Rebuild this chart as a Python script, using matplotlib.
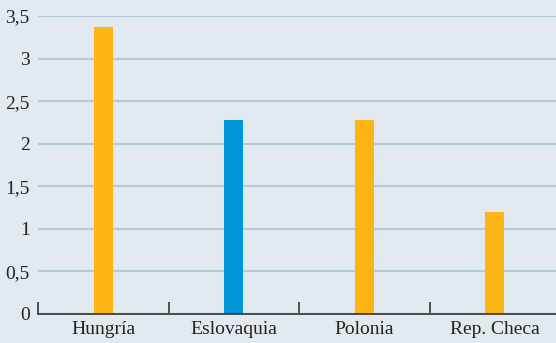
import matplotlib
matplotlib.use("Agg")
import matplotlib.pyplot as plt
from matplotlib.ticker import FixedLocator

categories = ["Hungría", "Eslovaquia", "Polonia", "Rep. Checa"]
values = [3.37, 2.28, 2.28, 1.20]
colors = ["#fdb515", "#0095d9", "#fdb515", "#fdb515"]
yticks = [0, 0.5, 1, 1.5, 2, 2.5, 3, 3.5]
ylabels = ["0", "0,5", "1", "1,5", "2", "2,5", "3", "3,5"]

bg = "#e2eaf0"
plt.rcParams['font.family'] = ['Liberation Serif', 'DejaVu Serif']

fig = plt.figure(figsize=(5.56, 3.43), dpi=100, facecolor=bg)
ax = fig.add_axes([38/556, 1-314/343, (560-38)/556, (314-16)/343])
ax.set_facecolor(bg)

x = range(len(categories))
ax.bar(x, values, width=0.146, color=colors, zorder=3)

ax.set_xlim(-0.5, 3.5)
ax.set_ylim(0, 3.5)
ax.set_yticks(yticks)
ax.set_yticklabels(ylabels, fontsize=14, color="#222222")
ax.yaxis.grid(True, color="#b3cbd8", linewidth=1.6, zorder=0)
ax.tick_params(axis='y', length=0, pad=6)

ax.set_xticks(list(x))
ax.set_xticklabels(categories, fontsize=14, color="#222222")
ax.tick_params(axis='x', which='major', length=0, pad=5)
ax.xaxis.set_minor_locator(FixedLocator([-0.5, 0.5, 1.5, 2.5]))
ax.tick_params(axis='x', which='minor', direction='in', length=9, width=1.2, color="#333333")

for s in ["top", "right", "left"]:
    ax.spines[s].set_visible(False)
ax.spines["bottom"].set_color("#333333")
ax.spines["bottom"].set_linewidth(1.2)
ax.spines["bottom"].set_zorder(4)

fig.savefig("out.png", dpi=100, facecolor=bg)
